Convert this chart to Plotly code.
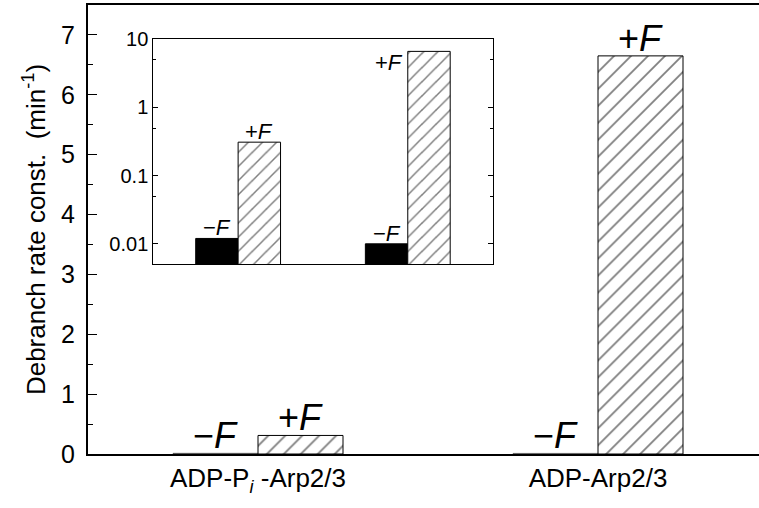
import numpy as np
import plotly.graph_objects as go

# ---- data ----
categories = ["ADP-P<sub><i>i</i></sub> -Arp2/3", "ADP-Arp2/3"]
cat_pos = [0, 1]
rate_minus_F = [0.012, 0.010]   # min^-1, -F (filled)
rate_plus_F = [0.31, 6.65]      # min^-1, +F (hatched)
main_yticks = [0, 1, 2, 3, 4, 5, 6, 7]
inset_yticks = [0.01, 0.1, 1, 10]
inset_yticklabels = ["0.01", "0.1", "1", "10"]
inset_minor = [0.005, 0.05, 0.5, 5]

FONT = "Liberation Sans, Arial, Helvetica, sans-serif"
W = 0.25

fig = go.Figure()

# main bars
fig.add_trace(go.Bar(x=cat_pos, y=rate_minus_F, width=W, offset=-W,
                     marker=dict(color="#444444", line=dict(color="#444444", width=0.5)),
                     xaxis="x", yaxis="y", showlegend=False))
fig.add_trace(go.Bar(x=cat_pos, y=rate_plus_F, width=W, offset=0,
                     marker=dict(color="white", line=dict(color="black", width=1),
                                 pattern=dict(shape="/", fgcolor="black", bgcolor="white",
                                              size=12, solidity=0.15)),
                     xaxis="x", yaxis="y", showlegend=False))

# inset bars
fig.add_trace(go.Bar(x=cat_pos, y=rate_minus_F, width=W, offset=-W,
                     marker=dict(color="black", line=dict(color="black", width=1)),
                     xaxis="x2", yaxis="y2", showlegend=False))
fig.add_trace(go.Bar(x=cat_pos, y=rate_plus_F, width=W, offset=0,
                     marker=dict(color="white", line=dict(color="black", width=1),
                                 pattern=dict(shape="/", fgcolor="black", bgcolor="white",
                                              size=10, solidity=0.15)),
                     xaxis="x2", yaxis="y2", showlegend=False))

ann = []
# main labels
for i, p in enumerate(cat_pos):
    ann.append(dict(x=p - W / 2, y=rate_minus_F[i], xref="x", yref="y", text="−<i>F</i>",
                    showarrow=False, yanchor="bottom", yshift=-5,
                    font=dict(family=FONT, size=36, color="black")))
    ann.append(dict(x=p + W / 2, y=rate_plus_F[i], xref="x", yref="y", text="+<i>F</i>",
                    showarrow=False, yanchor="bottom", yshift=-5,
                    font=dict(family=FONT, size=36, color="black")))
# inset labels
for i, p in enumerate(cat_pos):
    ann.append(dict(x=p - W / 2, y=np.log10(rate_minus_F[i]), xref="x2", yref="y2",
                    text="−<i>F</i>", showarrow=False, yanchor="bottom", yshift=-4,
                    font=dict(family=FONT, size=22, color="black")))
ann.append(dict(x=cat_pos[0] + W / 2, y=np.log10(rate_plus_F[0]), xref="x2", yref="y2",
                text="+<i>F</i>", showarrow=False, yanchor="bottom", yshift=-4,
                font=dict(family=FONT, size=22, color="black")))
ann.append(dict(x=cat_pos[1], y=np.log10(rate_plus_F[1]), xref="x2", yref="y2",
                text="+<i>F</i>", showarrow=False, xanchor="right", yanchor="top",
                xshift=-3, yshift=3,
                font=dict(family=FONT, size=22, color="black")))

fig.update_layout(
    width=759, height=508,
    margin=dict(l=88, r=0, t=5, b=54, autoexpand=False),
    paper_bgcolor="white", plot_bgcolor="white",
    font=dict(family=FONT, color="black"),
    barmode="overlay",
    annotations=ann,
    xaxis=dict(domain=[0, 1], range=[-0.5, 1.4735], showline=True, linewidth=2,
               linecolor="black", mirror=True, ticks="", tickvals=cat_pos,
               ticktext=categories, tickfont=dict(size=26), showgrid=False,
               zeroline=False, automargin=False),
    yaxis=dict(range=[0, 7.5], tickvals=main_yticks, ticks="inside", ticklen=9,
               tickwidth=1, tickcolor="black", showline=True, linewidth=2,
               linecolor="black", tickfont=dict(size=25),
               showgrid=False, zeroline=False, ticklabelstandoff=6, automargin=False,
               minor=dict(dtick=0.5, ticks="inside", ticklen=5, tickcolor="black",
                          tickwidth=1, showgrid=False),
               title=dict(text="Debranch rate const.  (min<sup>-1</sup>)",
                          font=dict(size=26), standoff=8)),
    xaxis2=dict(domain=[0.0973, 0.603], anchor="y2", range=[-0.5, 1.5],
                showline=True, linewidth=1, linecolor="black", mirror=True,
                ticks="", showticklabels=False, showgrid=False, zeroline=False,
                automargin=False),
    yaxis2=dict(domain=[0.4225, 0.9236], anchor="x2", type="log", range=[-2.3, 1],
                tickvals=inset_yticks, ticktext=inset_yticklabels,
                ticks="inside", ticklen=5, tickwidth=1, tickcolor="black",
                showline=True, linewidth=1, linecolor="black", mirror="ticks",
                tickfont=dict(size=20), showgrid=False, zeroline=False,
                automargin=False,
                minor=dict(tickvals=inset_minor, ticks="inside", ticklen=3,
                           tickcolor="black", tickwidth=1, showgrid=False)),
)

fig.write_html(
    "out.html",
    config={"responsive": False, "displayModeBar": False},
    post_script="document.body.style.margin='0';document.body.style.overflow='hidden';",
)
